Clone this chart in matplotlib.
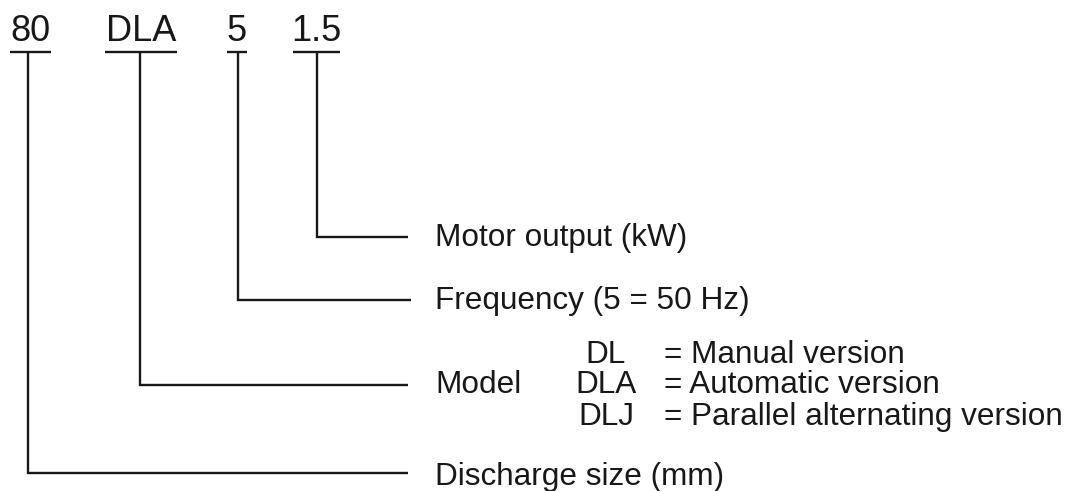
import matplotlib.pyplot as plt

plt.rcParams['font.family'] = ['Liberation Sans', 'DejaVu Sans']

# ==============================================================
# DATA
# ==============================================================

codes = ['80', 'DLA', '5', '1.5']
descriptions = ['Discharge size (mm)', 'Model', 'Frequency (5 = 50 Hz)', 'Motor output (kW)']

model_codes = ['DL', 'DLA', 'DLJ']
model_names = ['= Manual version', '= Automatic version', '= Parallel alternating version']

# ==============================================================
# LAYOUT (pixel coordinates, y pointing down)
# ==============================================================

cor = '#1a1718'
code_x = [30, 141, 237, 316]
underline = [(10, 51), (105, 177), (227, 247), (293, 340)]
stem_x = [28, 140, 238, 317]
branch_y = [473, 385, 300, 237]
branch_end = [408, 408, 411, 408]
desc_base = [485, 393, 309, 246]
desc_x = 435

fig = plt.figure(figsize=(10.67, 4.91), dpi=100)
ax = fig.add_axes([0, 0, 1, 1])
ax.set_xlim(0, 1067)
ax.set_ylim(491, 0)
ax.axis('off')

for i, codigo in enumerate(codes):
    ax.text(code_x[i], 41, codigo, fontsize=26, ha='center', va='baseline', color=cor)
    x0, x1 = underline[i]
    ax.plot([x0, x1], [52, 52], color=cor, lw=1.7, solid_capstyle='butt')
    ax.plot([stem_x[i], stem_x[i], branch_end[i]], [52, branch_y[i], branch_y[i]],
            color=cor, lw=1.7, solid_joinstyle='miter', solid_capstyle='butt')
    ax.text(desc_x, desc_base[i], descriptions[i], fontsize=22.7, ha='left',
            va='baseline', color=cor)

# variantes do modelo
model_base = [363, 393, 425]
for cod, nome, yb in zip(model_codes, model_names, model_base):
    ax.text(606, yb, cod, fontsize=22.7, ha='center', va='baseline', color=cor)
    ax.text(664, yb, nome, fontsize=22.7, ha='left', va='baseline', color=cor)

fig.savefig('out.png', dpi=100)
